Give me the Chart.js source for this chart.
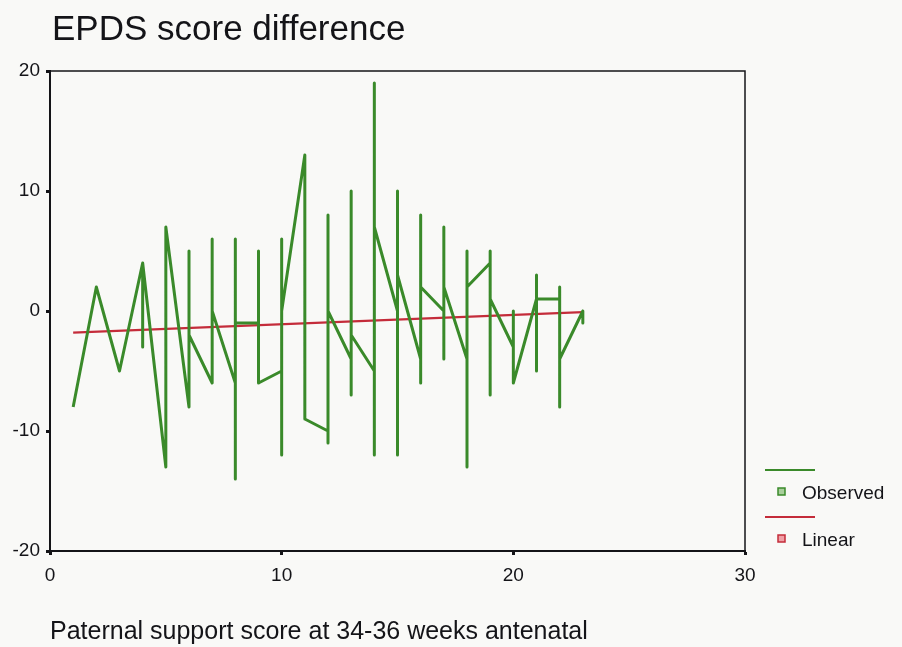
<!DOCTYPE html>
<html>
<head>
<meta charset="utf-8">
<title>EPDS score difference</title>
<script src="https://cdn.jsdelivr.net/npm/chart.js@4.4.1/dist/chart.umd.min.js"></script>
<style>
  html, body { margin: 0; padding: 0; background: #f9f9f7; }
  #wrap { width: 902px; height: 647px; }
</style>
</head>
<body>
<div id="wrap"><canvas id="epds"></canvas></div>
<script>
// observed points, in plotting order (repeated x = several cases with the same score)
const obsX = [1, 2, 3, 4, 4, 4, 5, 5, 6, 6, 6, 7, 7, 7, 8, 8, 8, 8, 9, 9, 9,
  10, 10, 10, 10, 11, 11, 12, 12, 12, 12, 13, 13, 13, 13, 14, 14, 14, 14,
  15, 15, 15, 15, 16, 16, 16, 16, 17, 17, 17, 17, 18, 18, 18, 18,
  19, 19, 19, 19, 20, 20, 20, 21, 21, 21, 21, 22, 22, 22, 22, 23, 23];
const obsY = [-8, 2, -5, 4, -3, 4, -13, 7, -8, 5, -2, -6, 6, 0, -6, 6, -14, -1, -1, 5, -6,
  -5, 6, -12, 0, 13, -9, -10, 8, -11, 0, -4, 10, -7, -2, -5, 19, -12, 7,
  0, 10, -12, 3, -4, 8, -6, 2, 0, 7, -4, 2, -4, 5, -13, 2,
  4, 5, -7, 1, -3, 0, -6, 1, 3, -5, 1, 1, 2, -8, -4, 0, -1];

// linear fit line
const linX = [1, 23];
const linY = [-1.8, -0.1];

const xTicks = [0, 10, 20, 30];
const yTicks = [-20, -10, 0, 10, 20];

const green = '#3a8a2a';
const red = '#c42c3a';
const ink = '#141418';
const font = '"Liberation Sans", Arial, sans-serif';

const toPoints = (xs, ys) => xs.map((x, i) => ({ x: x, y: ys[i] }));

// title, frame and the little legend on the right
const extras = {
  id: 'extras',
  afterDraw(chart) {
    const { ctx, chartArea: a } = chart;
    ctx.save();
    ctx.strokeStyle = ink;
    ctx.lineWidth = 1.5;
    ctx.strokeRect(a.left, a.top, a.right - a.left, a.bottom - a.top);

    ctx.fillStyle = ink;
    ctx.font = '35px ' + font;
    ctx.textBaseline = 'alphabetic';
    ctx.textAlign = 'left';
    ctx.fillText('EPDS score difference', a.left + 2, 40);

    const lx = a.right + 20;
    const items = [
      { label: 'Observed', color: green, fill: '#a9cf9c', y: 470 },
      { label: 'Linear', color: red, fill: '#f0a0a6', y: 517 }
    ];
    ctx.font = '19px ' + font;
    ctx.textBaseline = 'middle';
    items.forEach(it => {
      ctx.strokeStyle = it.color;
      ctx.lineWidth = 2;
      ctx.beginPath();
      ctx.moveTo(lx, it.y);
      ctx.lineTo(lx + 50, it.y);
      ctx.stroke();
      ctx.fillStyle = it.fill;
      ctx.fillRect(lx + 13, it.y + 18, 7, 7);
      ctx.lineWidth = 1.5;
      ctx.strokeRect(lx + 13, it.y + 18, 7, 7);
      ctx.fillStyle = ink;
      ctx.fillText(it.label, lx + 37, it.y + 24);
    });
    ctx.restore();
  }
};

new Chart(document.getElementById('epds'), {
  type: 'line',
  data: {
    datasets: [{
      label: 'Observed',
      data: toPoints(obsX, obsY),
      borderColor: green,
      borderWidth: 3,
      borderJoinStyle: 'round',
      pointRadius: 0,
      tension: 0
    }, {
      label: 'Linear',
      data: toPoints(linX, linY),
      borderColor: red,
      borderWidth: 2.2,
      pointRadius: 0,
      tension: 0
    }]
  },
  options: {
    responsive: true,
    maintainAspectRatio: false,
    animation: false,
    layout: { padding: { top: 71, right: 157, left: 0, bottom: 0 } },
    plugins: {
      legend: { display: false },
      tooltip: { enabled: false }
    },
    scales: {
      x: {
        type: 'linear',
        min: 0,
        max: 30,
        afterFit(s) { s.height = 96; },
        afterBuildTicks(s) { s.ticks = xTicks.map(v => ({ value: v })); },
        grid: { drawOnChartArea: false, tickLength: 4, tickWidth: 3, tickColor: ink },
        border: { display: true, color: ink, width: 2 },
        ticks: {
          color: ink,
          padding: 9,
          maxRotation: 0,
          font: { family: font, size: 19 }
        },
        title: {
          display: true,
          align: 'start',
          text: 'Paternal support score at 34-36 weeks antenatal',
          color: ink,
          padding: { top: 0, bottom: 0 },
          font: { family: font, size: 25 }
        }
      },
      y: {
        min: -20,
        max: 20,
        afterFit(s) { s.width = 50; },
        afterBuildTicks(s) { s.ticks = yTicks.map(v => ({ value: v })); },
        grid: { drawOnChartArea: false, tickLength: 4, tickWidth: 3, tickColor: ink },
        border: { display: true, color: ink, width: 2 },
        ticks: {
          color: ink,
          padding: 6,
          font: { family: font, size: 19 }
        }
      }
    }
  },
  plugins: [extras]
});
</script>
</body>
</html>
